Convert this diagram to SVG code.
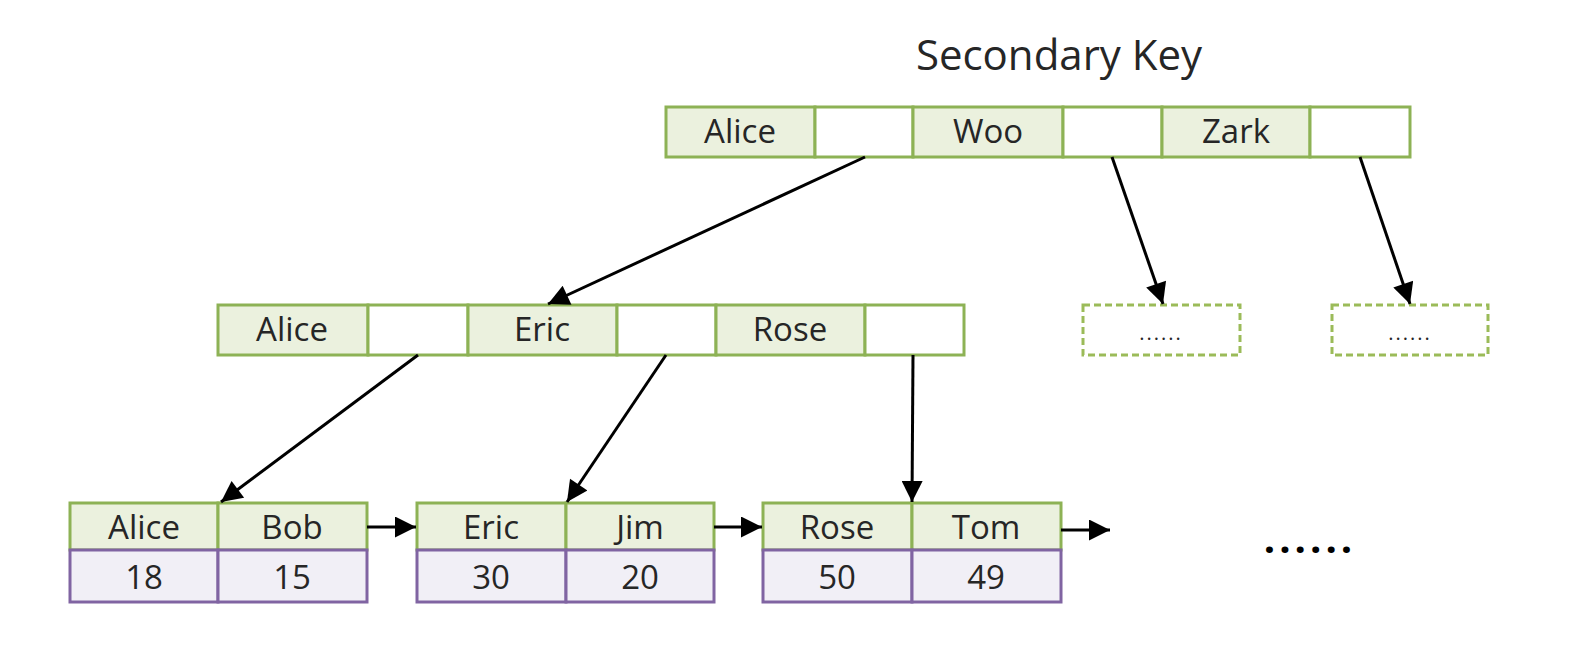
<svg xmlns="http://www.w3.org/2000/svg" width="1578" height="651" viewBox="0 0 1578 651">
<style>
.k{fill:#ebf1de;stroke:#8db255;stroke-width:3}
.e{fill:#ffffff;stroke:#8db255;stroke-width:3}
.v{fill:#f1eff6;stroke:#8064a2;stroke-width:3}
.d{fill:#ffffff;stroke:#9bbb59;stroke-width:3;stroke-dasharray:7 4}
.t{font-family:"Open Sans","Noto Sans",sans-serif;font-size:33px;fill:#262626;text-anchor:middle}
.s{font-size:20px;letter-spacing:2px}
.c{stroke:#000;stroke-width:3;fill:none;marker-end:url(#a)}
</style>
<defs>
<marker id="a" viewBox="0 0 10 10" refX="10" refY="5" markerWidth="9" markerHeight="7" markerUnits="strokeWidth" orient="auto">
<path d="M0,0 L10,5 L0,10 z" fill="#000"/>
</marker>
</defs>
<rect width="1578" height="651" fill="#fff"/>
<text x="1059" y="70" class="t" style="font-size:42px">Secondary Key</text>
<g id="root">
<rect class="k" x="666" y="107" width="149" height="50"/>
<rect class="e" x="815" y="107" width="98" height="50"/>
<rect class="k" x="913" y="107" width="150" height="50"/>
<rect class="e" x="1063" y="107" width="99" height="50"/>
<rect class="k" x="1162" y="107" width="148" height="50"/>
<rect class="e" x="1310" y="107" width="100" height="50"/>
<text class="t" x="740" y="143">Alice</text>
<text class="t" x="988" y="143">Woo</text>
<text class="t" x="1236" y="143">Zark</text>
</g>
<g id="mid">
<rect class="k" x="218" y="305" width="150" height="50"/>
<rect class="e" x="368" y="305" width="100" height="50"/>
<rect class="k" x="468" y="305" width="149" height="50"/>
<rect class="e" x="617" y="305" width="99" height="50"/>
<rect class="k" x="716" y="305" width="149" height="50"/>
<rect class="e" x="865" y="305" width="99" height="50"/>
<text class="t" x="292" y="341">Alice</text>
<text class="t" x="542" y="341">Eric</text>
<text class="t" x="790" y="341">Rose</text>
</g>
<g id="dash1">
<rect class="d" x="1083" y="305" width="157" height="50"/>
<text class="t s" x="1161" y="340">......</text>
</g>
<g id="dash2">
<rect class="d" x="1332" y="305" width="156" height="50"/>
<text class="t s" x="1410" y="340">......</text>
</g>
<g id="leaf1">
<rect class="k" x="70" y="503" width="148" height="47"/>
<rect class="k" x="218" y="503" width="149" height="47"/>
<rect class="v" x="70" y="550" width="148" height="52"/>
<rect class="v" x="218" y="550" width="149" height="52"/>
<text class="t" x="144" y="539">Alice</text>
<text class="t" x="292" y="539">Bob</text>
<text class="t" x="144" y="589">18</text>
<text class="t" x="292" y="589">15</text>
</g>
<g id="leaf2">
<rect class="k" x="417" y="503" width="149" height="47"/>
<rect class="k" x="566" y="503" width="148" height="47"/>
<rect class="v" x="417" y="550" width="149" height="52"/>
<rect class="v" x="566" y="550" width="148" height="52"/>
<text class="t" x="491" y="539">Eric</text>
<text class="t" x="640" y="539">Jim</text>
<text class="t" x="491" y="589">30</text>
<text class="t" x="640" y="589">20</text>
</g>
<g id="leaf3">
<rect class="k" x="763" y="503" width="149" height="47"/>
<rect class="k" x="912" y="503" width="149" height="47"/>
<rect class="v" x="763" y="550" width="149" height="52"/>
<rect class="v" x="912" y="550" width="149" height="52"/>
<text class="t" x="837" y="539">Rose</text>
<text class="t" x="986" y="539">Tom</text>
<text class="t" x="837" y="589">50</text>
<text class="t" x="986" y="589">49</text>
</g>
<g id="more">
<text class="t" x="1310" y="553" style="font-size:40px;font-weight:bold;fill:#000;letter-spacing:4px">......</text>
</g>
<g id="connectors">
<line class="c" x1="865" y1="157" x2="548" y2="304"/>
<line class="c" x1="1112" y1="157" x2="1163" y2="304"/>
<line class="c" x1="1360" y1="157" x2="1410" y2="304"/>
<line class="c" x1="418" y1="355" x2="221" y2="502"/>
<line class="c" x1="666" y1="355" x2="567" y2="502"/>
<line class="c" x1="913" y1="355" x2="912" y2="502"/>
<line class="c" x1="367" y1="527" x2="416" y2="527"/>
<line class="c" x1="714" y1="527" x2="762" y2="527"/>
<line class="c" x1="1061" y1="530" x2="1110" y2="530"/>
</g>
</svg>
